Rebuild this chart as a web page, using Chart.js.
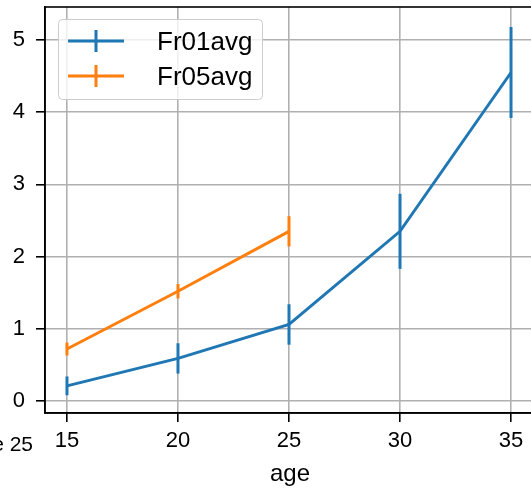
<!DOCTYPE html>
<html>
<head>
<meta charset="utf-8">
<script src="https://cdn.jsdelivr.net/npm/chart.js@4/dist/chart.umd.min.js"></script>
<style>
  html, body { margin: 0; padding: 0; overflow: hidden; background: #fff; }
  #wrap { width: 535px; height: 489px; position: relative; }
</style>
</head>
<body>
<div id="wrap"><canvas id="chart"></canvas></div>
<script>
// ---- Data ----
const ages = [15, 20, 25, 30, 35];
const fr01 = [0.21, 0.59, 1.06, 2.35, 4.55];
const fr01Err = [0.13, 0.21, 0.28, 0.52, 0.63];
const fr05 = [0.72, 1.52, 2.35];
const fr05Err = [0.09, 0.10, 0.21];
const xTicks = [15, 20, 25, 30, 35];
const yTicks = [0, 1, 2, 3, 4, 5];

const FONT = '"Liberation Sans", Arial, sans-serif';
const BLUE = '#1f77b4';
const ORANGE = '#ff7f0e';

function points(xs, ys) {
    return ys.map((v, i) => ({ x: xs[i], y: v }));
}

// ---- Error bars ----
const errorBars = {
    id: 'errorBars',
    afterDatasetsDraw(chart) {
        const ctx = chart.ctx;
        const xs = chart.scales.x, ys = chart.scales.y;
        chart.data.datasets.forEach(ds => {
            ctx.save();
            ctx.strokeStyle = ds.borderColor;
            ctx.lineWidth = 3;
            ds.data.forEach((p, i) => {
                const px = xs.getPixelForValue(p.x);
                ctx.beginPath();
                ctx.moveTo(px, ys.getPixelForValue(p.y - ds.err[i]));
                ctx.lineTo(px, ys.getPixelForValue(p.y + ds.err[i]));
                ctx.stroke();
            });
            ctx.restore();
        });
    }
};

// ---- Frame, legend and stray label ----
const frame = {
    id: 'frame',
    afterDraw(chart) {
        const ctx = chart.ctx;
        const a = chart.chartArea;
        ctx.save();
        ctx.strokeStyle = '#000';
        ctx.lineWidth = 1.6;
        ctx.strokeRect(a.left, a.top, a.right - a.left, a.bottom - a.top);

        // legend box
        const bx = 58, by = 19, bw = 204, bh = 80;
        ctx.fillStyle = 'rgba(255,255,255,0.8)';
        ctx.strokeStyle = '#cccccc';
        ctx.lineWidth = 1;
        ctx.beginPath();
        ctx.roundRect(bx + 0.5, by + 0.5, bw, bh, 4);
        ctx.fill();
        ctx.stroke();

        chart.data.datasets.forEach((ds, i) => {
            const cy = 41 + i * 35;
            ctx.strokeStyle = ds.borderColor;
            ctx.lineWidth = 3;
            ctx.beginPath();
            ctx.moveTo(68, cy);
            ctx.lineTo(124, cy);
            ctx.moveTo(96, cy - 11);
            ctx.lineTo(96, cy + 11);
            ctx.stroke();
            ctx.fillStyle = '#000';
            ctx.font = '26px ' + FONT;
            ctx.textAlign = 'left';
            ctx.textBaseline = 'middle';
            ctx.fillText(ds.label, 157, cy + 2);
        });

        // clipped label at the lower left
        ctx.fillStyle = '#000';
        ctx.font = '21px ' + FONT;
        ctx.textAlign = 'right';
        ctx.textBaseline = 'middle';
        ctx.fillText('e 25', 33, 445);
        ctx.restore();
    }
};

new Chart(document.getElementById('chart'), {
    type: 'line',
    data: {
        datasets: [
            { label: 'Fr01avg', data: points(ages, fr01), err: fr01Err,
              borderColor: BLUE, backgroundColor: BLUE, borderWidth: 3,
              pointRadius: 0, tension: 0 },
            { label: 'Fr05avg', data: points(ages, fr05), err: fr05Err,
              borderColor: ORANGE, backgroundColor: ORANGE, borderWidth: 3,
              pointRadius: 0, tension: 0 }
        ]
    },
    options: {
        responsive: true,
        maintainAspectRatio: false,
        animation: false,
        layout: { padding: { top: 7, left: 0, right: 0, bottom: 0 } },
        plugins: { legend: { display: false }, tooltip: { enabled: false } },
        scales: {
            x: {
                type: 'linear',
                min: 14.01, max: 36.08,
                afterBuildTicks: s => { s.ticks = xTicks.map(v => ({ value: v })); },
                afterFit: s => { s.height = 76; s.paddingLeft = 0; s.paddingRight = 0; },
                grid: { color: '#b0b0b0', lineWidth: 1.6, tickColor: '#000', tickLength: 9 },
                border: { color: '#000', width: 1.6 },
                ticks: { color: '#000', padding: 6, maxRotation: 0,
                         font: { family: FONT, size: 22 } },
                title: { display: true, text: 'age', color: '#000',
                         font: { family: FONT, size: 24 }, padding: { top: 0, bottom: 0 } }
            },
            y: {
                min: -0.166, max: 5.457,
                afterBuildTicks: s => { s.ticks = yTicks.map(v => ({ value: v })); },
                afterFit: s => { s.width = 45; s.paddingTop = 0; s.paddingBottom = 0; },
                grid: { color: '#b0b0b0', lineWidth: 1.6, tickColor: '#000', tickLength: 9 },
                border: { color: '#000', width: 1.6 },
                ticks: { color: '#000', padding: 11,
                         font: { family: FONT, size: 22 } }
            }
        }
    },
    plugins: [errorBars, frame]
});
</script>
</body>
</html>
